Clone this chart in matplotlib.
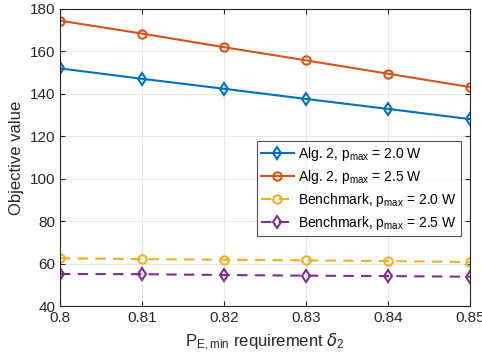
import matplotlib
matplotlib.use("Agg")
import matplotlib.pyplot as plt

plt.rcParams['font.family'] = ['Liberation Sans', 'DejaVu Sans']
plt.rcParams['mathtext.default'] = 'regular'

delta2 = [0.80, 0.81, 0.82, 0.83, 0.84, 0.85]
alg2_p20 = [152.0, 147.1, 142.4, 137.6, 132.9, 128.1]
alg2_p25 = [174.5, 168.4, 162.0, 155.8, 149.5, 143.2]
bench_p20 = [62.5, 62.1, 61.8, 61.5, 61.2, 60.7]
bench_p25 = [55.1, 55.0, 54.6, 54.3, 54.1, 53.8]

fig = plt.figure(figsize=(4.82, 3.6), dpi=100)
ax = fig.add_axes([0.1245, 0.15, 0.8505, 0.825])

ax.plot(delta2, alg2_p20, '-', color='#0072BD', marker='d', mfc='none', mew=1.5, ms=6, lw=1.5,
        label=r'Alg. 2, p$_{max}$ = 2.0 W')
ax.plot(delta2, alg2_p25, '-', color='#D95319', marker='o', mfc='none', mew=1.5, ms=6, lw=1.5,
        label=r'Alg. 2, p$_{max}$ = 2.5 W')
ax.plot(delta2, bench_p20, '--', color='#EDB120', marker='o', mfc='none', mew=1.5, ms=6, lw=1.5,
        dashes=(5, 3.5), label=r'Benchmark, p$_{max}$ = 2.0 W')
ax.plot(delta2, bench_p25, '--', color='#7E2F8E', marker='d', mfc='none', mew=1.5, ms=6, lw=1.5,
        dashes=(5, 3.5), label=r'Benchmark, p$_{max}$ = 2.5 W')

ax.set_xlim(0.8, 0.85)
ax.set_ylim(40, 180)
ax.set_xticks(delta2)
ax.set_xticklabels(['0.8', '0.81', '0.82', '0.83', '0.84', '0.85'])
ax.set_yticks(range(40, 181, 20))
ax.tick_params(direction='in', top=True, right=True, labelsize=11, color='#262626', labelcolor='#262626')
ax.grid(True, color='#e6e6e6', lw=0.8)
ax.set_axisbelow(True)
for s in ax.spines.values():
    s.set_color('#262626')

ax.set_xlabel(r'P$_{E,min}$ requirement $\mathit{\delta}_2$', fontsize=12, color='#262626', labelpad=5)
ax.set_ylabel('Objective value', fontsize=12, color='#262626', labelpad=4)

leg = ax.legend(loc='upper right', bbox_to_anchor=(0.978, 0.556), fontsize=10, frameon=True,
                fancybox=False, edgecolor='#262626', borderpad=0.3, labelspacing=0.35,
                handlelength=2.4, handletextpad=0.3, borderaxespad=0)
leg.get_frame().set_linewidth(0.8)

fig.savefig('out.png', dpi=100)
